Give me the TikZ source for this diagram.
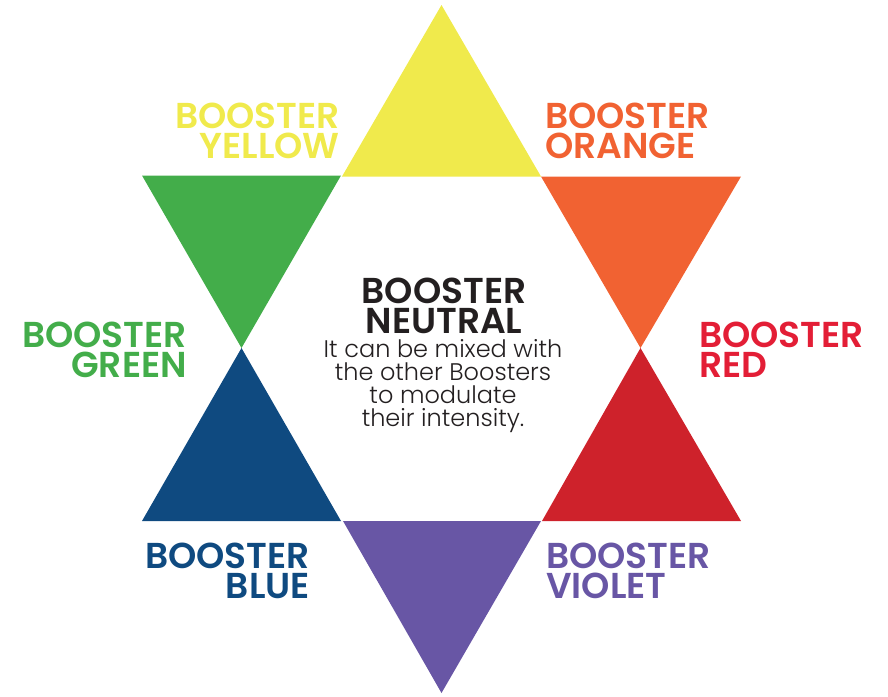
\documentclass[tikz,border=0pt]{standalone}
\usepackage{fontspec}
\setmainfont{Poppins}
\IfFontExistsTF{Poppins SemiBold}{\newfontfamily\lblfont{Poppins SemiBold}}{\newfontfamily\lblfont{Poppins}[UprightFont=*-Bold]}
\IfFontExistsTF{Poppins Light}{\newfontfamily\bodyfont{Poppins Light}}{\newfontfamily\bodyfont{Poppins}}
\definecolor{cYellow}{RGB}{240,234,76}
\definecolor{cOrange}{RGB}{241,98,50}
\definecolor{cRed}{RGB}{206,34,43}
\definecolor{cRedT}{RGB}{227,30,54}
\definecolor{cGreen}{RGB}{67,173,74}
\definecolor{cBlue}{RGB}{15,74,128}
\definecolor{cViolet}{RGB}{104,86,165}
\definecolor{cText}{RGB}{35,31,32}
\begin{document}
\begin{tikzpicture}[x=1pt,y=-1pt,
  lbl/.style={inner sep=0pt, font=\lblfont\fontsize{36}{30}\selectfont},
  body/.style={inner sep=0pt, font=\bodyfont\fontsize{24}{23}\selectfont, text=cText, align=center}]
\useasboundingbox (0,0) rectangle (888,696);
% triangles
\fill[cYellow] (441.5,5) -- (342,176.5) -- (541,176.5) -- cycle;
\fill[cGreen]  (142,175.5) -- (341,175.5) -- (241.5,348) -- cycle;
\fill[cOrange] (541,176.5) -- (741,176.5) -- (640.5,348) -- cycle;
\fill[cRed]    (640.5,348) -- (542,521) -- (741,521) -- cycle;
\fill[cBlue]   (241.5,348) -- (142,521) -- (341,521) -- cycle;
\fill[cViolet] (343,521) -- (541,521) -- (441.5,693) -- cycle;
% labels (base anchor = baseline of last line)
\node[lbl, text=cYellow, align=right, anchor=base east] (ly) at (340,158) {BOOSTER\\YELLOW};
\node[lbl, text=cOrange, align=left, anchor=base west] (lo) at (545,158) {BOOSTER\\ORANGE};
\node[lbl, text=cGreen, align=right, anchor=base east] (lg) at (187,377) {BOOSTER\\GREEN};
\node[lbl, text=cRedT, align=left, anchor=base west] (lr) at (699,377) {BOOSTER\\RED};
\node[lbl, text=cBlue, align=right, anchor=base east] (lb) at (310,598) {BOOSTER\\BLUE};
\node[lbl, text=cViolet, align=left, anchor=base west] (lv) at (546,598) {BOOSTER\\VIOLET};
\node[lbl, text=cText, align=center, anchor=base] (ln) at (444,333) {BOOSTER\\NEUTRAL};
\node[body, anchor=base] (nb) at (443,426) {It can be mixed with\\the other Boosters\\to modulate\\their intensity.};
\end{tikzpicture}
\end{document}
